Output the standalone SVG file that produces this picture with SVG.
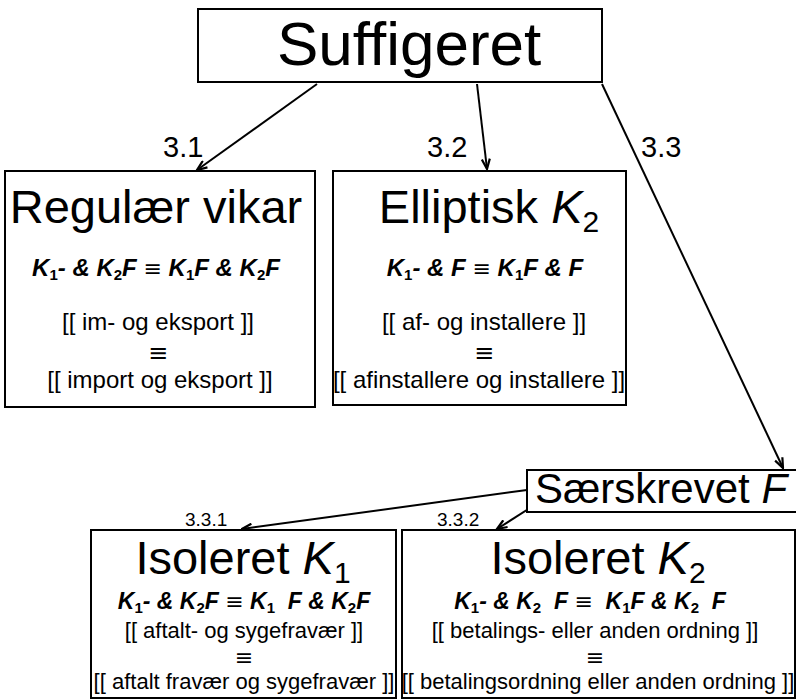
<svg xmlns="http://www.w3.org/2000/svg" width="796" height="699" viewBox="0 0 796 699">
<style>
.box{fill:#fff;stroke:#000;stroke-width:2}
text{font-family:"Liberation Sans",Arial,"DejaVu Sans",sans-serif;fill:#000}
.edge{stroke:#000;stroke-width:2;fill:none;marker-end:url(#arr)}
.ttl{font-size:47px;text-anchor:middle}
.f{font-size:24px;font-weight:bold;font-style:italic;text-anchor:middle}
.f2{font-size:23px}
.s{font-size:15px;font-style:normal}
.eq{font-family:"DejaVu Sans",sans-serif;font-size:22px;font-style:normal;font-weight:normal}
.ln{font-size:24px;text-anchor:middle}
.ln2{font-size:22px;text-anchor:middle}
.lab{font-size:29px}
.lab2{font-size:19px}
.it{font-style:italic}
</style>
<defs>
<marker id="arr" viewBox="0 0 12 10" refX="11" refY="5" markerWidth="12" markerHeight="10" markerUnits="userSpaceOnUse" orient="auto">
<path d="M1,1 L11,5 L1,9" fill="none" stroke="#000" stroke-width="2.2"/>
</marker>
</defs>
<g id="connectors">
<line class="edge" x1="317" y1="84" x2="197" y2="170"/>
<line class="edge" x1="477" y1="84" x2="487" y2="169"/>
<line class="edge" x1="602" y1="84" x2="783" y2="468"/>
<line class="edge" x1="527" y1="490" x2="242" y2="529"/>
<line class="edge" x1="530" y1="508" x2="497" y2="529"/>
<text class="lab" x="163" y="157">3.1</text>
<text class="lab" x="427" y="157">3.2</text>
<text class="lab" x="641" y="157">3.3</text>
<text class="lab2" x="185" y="526">3.3.1</text>
<text class="lab2" x="437" y="526">3.3.2</text>
</g>
<g id="suffigeret">
<rect class="box" x="198" y="9" width="404" height="73"/>
<text x="277" y="65" font-size="62">Suffigeret</text>
</g>
<g id="regulaer">
<rect class="box" x="5" y="171" width="310" height="236"/>
<text class="ttl" x="156" y="223">Regulær vikar</text>
<text class="f" x="156" y="276">K<tspan class="s" dy="4">1</tspan><tspan dy="-4">- &amp; K</tspan><tspan class="s" dy="4">2</tspan><tspan dy="-4">F </tspan><tspan class="eq">≡</tspan><tspan> K</tspan><tspan class="s" dy="4">1</tspan><tspan dy="-4">F &amp; K</tspan><tspan class="s" dy="4">2</tspan><tspan dy="-4">F</tspan></text>
<text class="ln" x="158" y="330">[[ im- og eksport ]]</text>
<text class="ln eq" x="158" y="361">≡</text>
<text class="ln" x="160" y="388">[[ import og eksport ]]</text>
</g>
<g id="elliptisk">
<rect class="box" x="333" y="171" width="293" height="234"/>
<text class="ttl" x="489" y="223">Elliptisk <tspan class="it">K</tspan><tspan font-size="30" dy="9">2</tspan></text>
<text class="f" x="485" y="276">K<tspan class="s" dy="4">1</tspan><tspan dy="-4">- &amp; F </tspan><tspan class="eq">≡</tspan><tspan> K</tspan><tspan class="s" dy="4">1</tspan><tspan dy="-4">F &amp; F</tspan></text>
<text class="ln" x="484" y="330">[[ af- og installere ]]</text>
<text class="ln eq" x="484" y="361">≡</text>
<text class="ln" x="479" y="388">[[ afinstallere og installere ]]</text>
</g>
<g id="saerskrevet">
<rect class="box" x="527" y="470" width="272" height="42"/>
<text x="535" y="503" font-size="42">Særskrevet <tspan class="it">F</tspan></text>
</g>
<g id="isoleret1">
<rect class="box" x="91" y="530" width="305" height="168"/>
<text class="ttl" x="243" y="574">Isoleret <tspan class="it">K</tspan><tspan font-size="30" dy="9">1</tspan></text>
<text class="f f2" x="244" y="609">K<tspan class="s" dy="4">1</tspan><tspan dy="-4">- &amp; K</tspan><tspan class="s" dy="4">2</tspan><tspan dy="-4">F </tspan><tspan class="eq">≡</tspan><tspan> K</tspan><tspan class="s" dy="4">1</tspan><tspan dy="-4">&#160;&#160;F &amp; K</tspan><tspan class="s" dy="4">2</tspan><tspan dy="-4">F</tspan></text>
<text class="ln2" x="244" y="638">[[ aftalt- og sygefravær ]]</text>
<text class="ln2 eq" x="244" y="665">≡</text>
<text class="ln2" x="244" y="689">[[ aftalt fravær og sygefravær ]]</text>
</g>
<g id="isoleret2">
<rect class="box" x="402" y="530" width="393" height="168"/>
<text class="ttl" x="598" y="574">Isoleret <tspan class="it">K</tspan><tspan font-size="30" dy="9">2</tspan></text>
<text class="f f2" x="590" y="609">K<tspan class="s" dy="4">1</tspan><tspan dy="-4">- &amp; K</tspan><tspan class="s" dy="4">2</tspan><tspan dy="-4">&#160;&#160;F </tspan><tspan class="eq">≡</tspan><tspan>&#160;&#160;K</tspan><tspan class="s" dy="4">1</tspan><tspan dy="-4">F &amp; K</tspan><tspan class="s" dy="4">2</tspan><tspan dy="-4">&#160;&#160;F</tspan></text>
<text class="ln2" x="595" y="638">[[ betalings- eller anden ordning ]]</text>
<text class="ln2 eq" x="595" y="665">≡</text>
<text class="ln2" x="598" y="689">[[ betalingsordning eller anden ordning ]]</text>
</g>
</svg>
